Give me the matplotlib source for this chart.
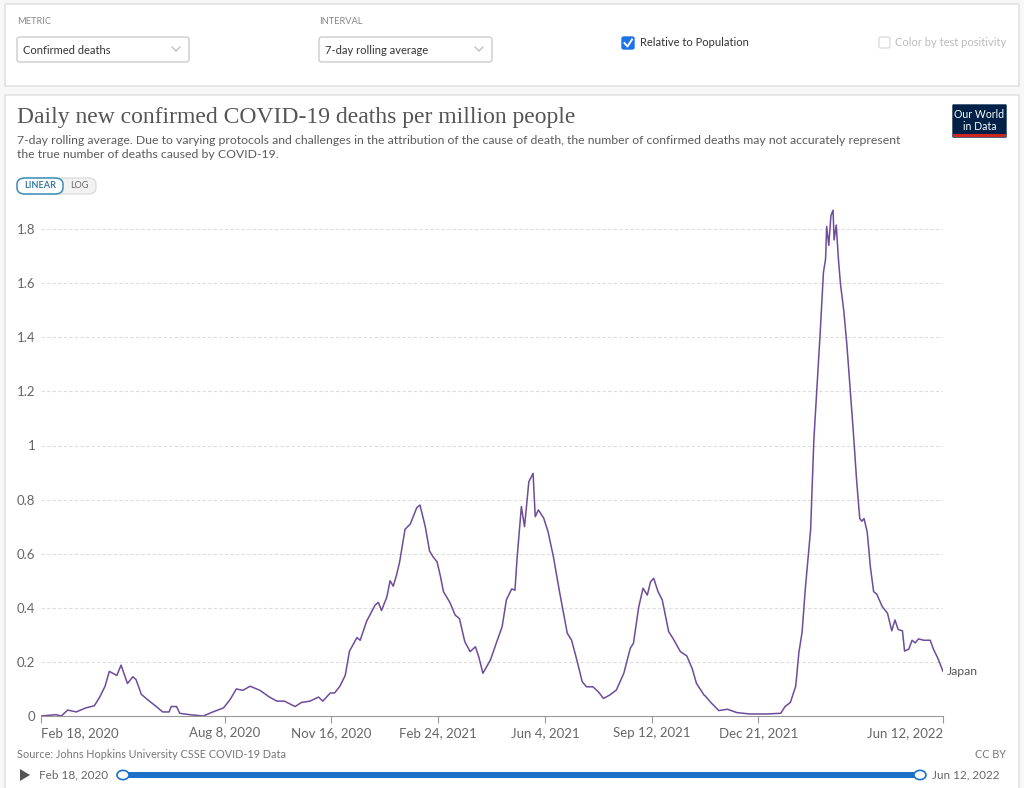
import numpy as np
import pandas as pd
import matplotlib
matplotlib.use("Agg")
import matplotlib.pyplot as plt
from matplotlib.patches import FancyBboxPatch, Rectangle, Circle, Polygon

plt.rcParams['font.family'] = ['Lato', 'DejaVu Sans']

# Japan, daily new confirmed COVID-19 deaths per million (7-day avg)
start_date = "2020-02-18"
day_offset = [0, 14, 19, 25, 33, 42, 50, 55, 60, 64, 71, 75, 81, 86, 89, 94, 100, 108, 114, 120,
              122, 127, 130, 139, 152, 161, 171, 177, 183, 189, 196, 205, 214, 221, 228, 238, 244,
              252, 260, 264, 271, 275, 280, 285, 289, 296, 299, 305, 313, 316, 319, 324, 327, 330,
              333, 336, 341, 346, 352, 355, 360, 364, 367, 371, 374, 377, 383, 388, 392, 397, 402,
              407, 410, 414, 421, 427, 432, 436, 441, 444, 446, 450, 453, 457, 461, 463, 466, 471,
              475, 480, 486, 493, 497, 502, 507, 511, 517, 522, 527, 533, 539, 546, 552, 555, 560,
              564, 568, 571, 574, 578, 582, 588, 592, 599, 605, 610, 614, 621, 622, 628, 635, 643,
              652, 664, 680, 693, 697, 702, 707, 710, 713, 716, 721, 724, 727, 730, 733, 735, 736,
              738, 740, 742, 743, 745, 747, 749, 752, 755, 758, 761, 764, 767, 769, 771, 774, 777,
              780, 783, 788, 793, 797, 800, 803, 807, 809, 813, 816, 819, 822, 827, 833, 836, 840,
              845]
deaths_per_million = [0.0, 0.005, 0.0, 0.022, 0.015, 0.03, 0.038, 0.07, 0.11, 0.165, 0.15, 0.188,
                      0.12, 0.145, 0.135, 0.08, 0.06, 0.035, 0.015, 0.015, 0.035, 0.035, 0.01, 0.005,
                      0.0, 0.015, 0.03, 0.06, 0.1, 0.095, 0.11, 0.095, 0.07, 0.055, 0.055, 0.035,
                      0.05, 0.055, 0.07, 0.055, 0.085, 0.085, 0.11, 0.15, 0.24, 0.29, 0.28, 0.35,
                      0.41, 0.42, 0.39, 0.44, 0.5, 0.48, 0.52, 0.57, 0.69, 0.71, 0.77, 0.78, 0.7,
                      0.61, 0.59, 0.57, 0.52, 0.46, 0.42, 0.373, 0.36, 0.275, 0.238, 0.256, 0.22,
                      0.158, 0.207, 0.275, 0.33, 0.43, 0.47, 0.465, 0.583, 0.774, 0.7, 0.866, 0.897,
                      0.737, 0.762, 0.731, 0.681, 0.589, 0.454, 0.306, 0.281, 0.207, 0.127, 0.108,
                      0.108, 0.09, 0.065, 0.078, 0.096, 0.158, 0.25, 0.269, 0.404, 0.472, 0.447,
                      0.496, 0.509, 0.46, 0.429, 0.312, 0.287, 0.238, 0.222, 0.176, 0.121, 0.078,
                      0.075, 0.048, 0.02, 0.025, 0.0125, 0.0075, 0.0075, 0.01, 0.035, 0.05, 0.11,
                      0.235, 0.31, 0.47, 0.69, 1.02, 1.22, 1.42, 1.64, 1.69, 1.81, 1.74, 1.85,
                      1.87, 1.76, 1.815, 1.69, 1.595, 1.5, 1.37, 1.21, 1.05, 0.875, 0.73, 0.72,
                      0.73, 0.68, 0.55, 0.46, 0.45, 0.405, 0.38, 0.315, 0.355, 0.32, 0.315, 0.24,
                      0.2475, 0.28, 0.27, 0.285, 0.28, 0.28, 0.2475, 0.215, 0.165]

y_ticks = [0, 0.2, 0.4, 0.6, 0.8, 1, 1.2, 1.4, 1.6, 1.8]
x_tick_dates = ["2020-02-18", "2020-08-08", "2020-11-16", "2021-02-24", "2021-06-04",
                "2021-09-12", "2021-12-21", "2022-06-12"]
x_tick_labels = ["Feb 18, 2020", "Aug 8, 2020", "Nov 16, 2020", "Feb 24, 2021", "Jun 4, 2021",
                 "Sep 12, 2021", "Dec 21, 2021", "Jun 12, 2022"]

dates = pd.Timestamp(start_date) + pd.to_timedelta(day_offset, unit="D")

W, H = 1024, 788
fig = plt.figure(figsize=(W / 100, H / 100), dpi=100)
fig.patch.set_facecolor("#f7f7f7")


def fx(x):
    return x / W


def fy(y):
    return 1 - y / H


def box(x0, y0, x1, y1, fc="white", ec="#dddddd", lw=1, r=0.0, z=-5):
    p = FancyBboxPatch((fx(x0), fy(y1)), fx(x1 - x0), fy(y0) - fy(y1),
                       boxstyle="round,pad=0,rounding_size=%f" % r,
                       transform=fig.transFigure, fc=fc, ec=ec, lw=lw, zorder=z)
    fig.patches.append(p)


def txt(x, y, s, size=9, color="#555555", **kw):
    fig.text(fx(x), fy(y), s, fontsize=size, color=color, va="center", **kw)


# control panel
box(5, 4, 1019, 86, z=-10)
txt(17, 21, "METRIC", size=6.7, color="#888888")
txt(319, 21, "INTERVAL", size=6.7, color="#888888")
box(17, 37, 189, 62, ec="#cccccc", r=0.003)
box(319, 37, 492, 62, ec="#cccccc", r=0.003)
txt(23, 50, "Confirmed deaths", size=8, color="#333333")
txt(325, 50, "7-day rolling average", size=8, color="#333333")
for cx in (176, 479):
    fig.lines.append(plt.Line2D([fx(cx - 4), fx(cx), fx(cx + 4)], [fy(47), fy(51), fy(47)],
                                transform=fig.transFigure, color="#bbbbbb", lw=0.9))
box(622, 37, 634, 49, fc="#1a73e8", ec="#1a73e8", r=0.002)
fig.lines.append(plt.Line2D([fx(624.5), fx(627.5), fx(632)], [fy(43), fy(46.5), fy(39.5)],
                            transform=fig.transFigure, color="white", lw=1.4))
txt(640, 43, "Relative to Population", size=8, color="#333333")
box(879, 37, 890, 48, fc="white", ec="#dddddd", r=0.002)
txt(895, 43, "Color by test positivity", size=8, color="#bbbbbb")

# chart panel
box(5, 95, 1019, 800, z=-10)
fig.text(fx(17), fy(118), "Daily new confirmed COVID-19 deaths per million people",
         fontsize=17, color="#555555", va="center", family="Liberation Serif")
txt(17, 140, "7-day rolling average. Due to varying protocols and challenges in the attribution "
             "of the cause of death, the number of confirmed deaths may not accurately represent",
    size=8.8, color="#5b5b5b")
txt(17, 155, "the true number of deaths caused by COVID-19.", size=8.8, color="#5b5b5b")

# linear / log toggle
box(17, 178, 96, 194, fc="#f2f2f2", ec="#dddddd", r=0.008)
box(17, 178, 63, 194, fc="white", ec="#3a8fb7", lw=1.1, r=0.008)
txt(40, 186, "LINEAR", size=6.6, color="#3a7ca5", ha="center", weight="bold")
txt(79, 186, "LOG", size=6.6, color="#666666", ha="center")

# logo
box(953, 105, 1006, 137, fc="#002147", ec="#002147")
fig.patches.append(Rectangle((fx(953), fy(137)), fx(53), fy(134) - fy(137),
                             transform=fig.transFigure, fc="#ce261e", ec="none"))
txt(979.5, 115, "Our World", size=7.6, color="white", ha="center")
txt(979.5, 126, "in Data", size=7.6, color="white", ha="center")

# main plot
y_top = 1.9
ax = fig.add_axes([fx(41), fy(716), fx(943) - fx(41), fy(716 - y_top * 270.5) - fy(716)])
ax.set_zorder(5)
ax.set_facecolor("none")
ax.plot(dates, deaths_per_million, color="#6d4c9a", lw=1.1, solid_joinstyle="round")
ax.set_xlim(pd.Timestamp(x_tick_dates[0]), pd.Timestamp(x_tick_dates[-1]))
ax.set_ylim(0, y_top)
ax.set_yticks(y_ticks)
ax.set_yticklabels([("%g" % v) for v in y_ticks])
ax.set_xticks(pd.to_datetime(x_tick_dates))
ax.set_xticklabels(x_tick_labels)
xl = ax.get_xticklabels()
xl[0].set_ha("left")
xl[-1].set_ha("right")
for v in y_ticks[1:]:
    ax.axhline(v, color="#dddddd", lw=0.8, ls=(0, (3, 2)), zorder=0)
for s in ("top", "right", "left"):
    ax.spines[s].set_visible(False)
ax.spines["bottom"].set_color("#999999")
ax.tick_params(axis="y", length=0, pad=4, labelsize=9.5, labelcolor="#666666")
ax.tick_params(axis="x", length=5, color="#999999", pad=3, labelsize=9.5, labelcolor="#666666")
ax.text(dates[-1] + pd.Timedelta(days=4), deaths_per_million[-1], "Japan", fontsize=8.8,
        color="#555555", va="center")

# footer
txt(17, 755, "Source: Johns Hopkins University CSSE COVID-19 Data", size=7.8, color="#777777")
txt(1006, 755, "CC BY", size=7.8, color="#777777", ha="right")
fig.patches.append(Polygon([[fx(20), fy(769)], [fx(20), fy(781)], [fx(30), fy(775)]], closed=True,
                           transform=fig.transFigure, fc="#555555", ec="none"))
txt(39, 775, "Feb 18, 2020", size=8.5, color="#666666")
fig.patches.append(Rectangle((fx(123), fy(778)), fx(920 - 123), fy(772) - fy(778),
                             transform=fig.transFigure, fc="#1c70c8", ec="none"))
for hx in (123, 920):
    fig.patches.append(Circle((fx(hx), fy(775)), 6 / W, transform=fig.transFigure,
                              fc="white", ec="#1c70c8", lw=1.2))
txt(932, 775, "Jun 12, 2022", size=8.5, color="#666666")

fig.savefig("out.png", dpi=100, facecolor=fig.get_facecolor())
